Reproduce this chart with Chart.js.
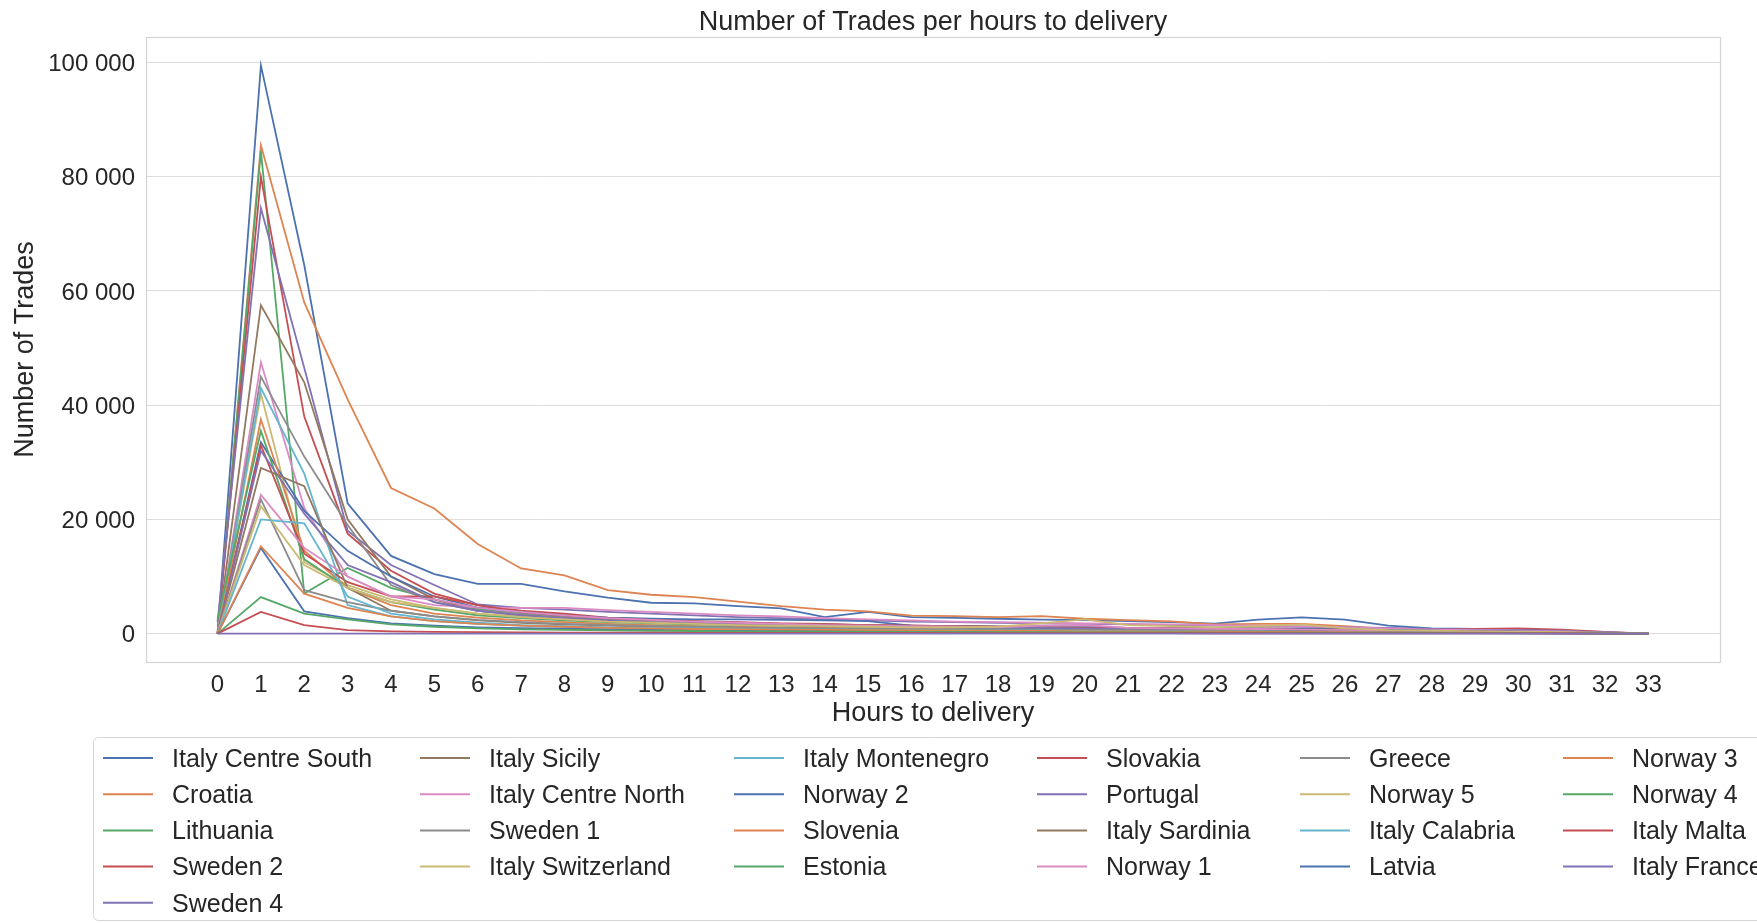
<!DOCTYPE html>
<html lang="en">
<head>
<meta charset="UTF-8">
<title>Number of Trades per hours to delivery</title>
<script src="https://cdn.jsdelivr.net/npm/chart.js"></script>
<style>
  html, body { margin: 0; padding: 0; background: #fff; }
  .graph { position: relative; width: 1757px; height: 923px; }
</style>
</head>
<body>
<div class="graph"><canvas id="myChart"></canvas></div>
<script>
// hours to delivery (x axis)
const hours = [0, 1, 2, 3, 4, 5, 6, 7, 8, 9, 10, 11, 12, 13, 14, 15, 16, 17, 18, 19, 20, 21, 22, 23, 24, 25, 26, 27, 28, 29, 30, 31, 32, 33];

const yTickValues = [0, 20000, 40000, 60000, 80000, 100000];
const yTickLabels = ['0', '20 000', '40 000', '60 000', '80 000', '100 000'];

// number of trades per market
const italyCentreSouth = [0, 99500, 64500, 22800, 13600, 10400, 8700, 8700, 7400, 6300, 5400, 5300, 4800, 4400, 2900, 3800, 2900, 2750, 2600, 2450, 2350, 2200, 2000, 1750, 2450, 2850, 2450, 1400, 900, 800, 700, 580, 250, 0];
const croatia = [0, 85500, 58000, 41000, 25500, 21900, 15700, 11400, 10200, 7600, 6800, 6400, 5600, 4800, 4200, 3900, 3150, 3050, 2900, 3050, 2600, 2350, 2150, 1600, 1700, 1700, 1300, 800, 600, 500, 400, 300, 150, 0];
const lithuania = [0, 84500, 7000, 11500, 8000, 6000, 4300, 3400, 2900, 2500, 2200, 2000, 1800, 1600, 1500, 1400, 1300, 1200, 1100, 1000, 950, 900, 850, 800, 750, 700, 600, 500, 400, 300, 250, 200, 100, 0];
const sweden2 = [0, 80000, 38000, 17500, 11000, 7000, 5000, 4000, 3500, 2800, 2500, 2200, 2000, 1800, 1700, 1500, 1400, 1300, 1200, 1200, 1100, 1000, 1000, 900, 900, 800, 800, 700, 800, 800, 900, 700, 300, 0];
const sweden4 = [2000, 74500, 46500, 18000, 12000, 8500, 5100, 4500, 4200, 3800, 3500, 3200, 2900, 2700, 2500, 2300, 2100, 2000, 1900, 1800, 1700, 1600, 1500, 1400, 1300, 1200, 1100, 1000, 800, 700, 600, 500, 200, 0];
const italySicily = [0, 57500, 44000, 20000, 10000, 6000, 4000, 3300, 2800, 2400, 2100, 1900, 1700, 1500, 1400, 1300, 1200, 1100, 1000, 950, 900, 850, 800, 750, 700, 650, 600, 500, 450, 400, 350, 300, 150, 0];
const italyCentreNorth = [0, 47500, 22000, 10000, 6500, 5000, 4600, 4500, 4500, 4100, 3800, 3500, 3200, 3000, 2700, 2500, 2300, 2100, 2000, 1900, 1800, 1700, 1600, 1500, 1400, 1300, 1100, 900, 700, 600, 500, 400, 200, 0];
const sweden1 = [0, 45000, 31000, 19000, 8500, 5500, 4000, 3500, 3000, 2600, 2300, 2100, 1900, 1700, 1600, 1500, 1400, 1300, 1200, 1200, 1100, 1000, 1000, 900, 900, 800, 700, 600, 500, 400, 350, 300, 150, 0];
const italySwitzerland = [0, 42000, 12500, 8500, 6000, 4500, 3500, 3000, 2600, 2200, 2000, 1800, 1600, 1500, 1400, 1300, 1200, 1100, 1100, 1200, 1100, 1000, 900, 800, 700, 600, 500, 400, 300, 300, 250, 200, 100, 0];
const italyMontenegro = [0, 43000, 28000, 5000, 3000, 2200, 1700, 1400, 1200, 1000, 900, 800, 750, 700, 650, 600, 550, 500, 450, 450, 400, 400, 350, 350, 300, 300, 250, 200, 150, 150, 100, 100, 50, 0];
const norway2 = [0, 33500, 21500, 14500, 10000, 6500, 4500, 3800, 3200, 2800, 2600, 2500, 2500, 2400, 2300, 2200, 1400, 1300, 1200, 1100, 1100, 1000, 900, 900, 800, 800, 700, 600, 500, 400, 350, 300, 150, 0];
const slovenia = [0, 37500, 14500, 8000, 5000, 3500, 2800, 2300, 2000, 1700, 1500, 1300, 1200, 1100, 1000, 900, 850, 800, 750, 700, 650, 600, 550, 500, 450, 400, 350, 300, 250, 200, 150, 100, 50, 0];
const estonia = [2500, 35500, 13000, 8000, 5500, 4200, 3200, 2700, 2300, 2000, 1800, 1600, 1500, 1400, 1300, 1200, 1100, 1000, 950, 900, 850, 800, 750, 700, 650, 600, 500, 400, 350, 300, 250, 200, 100, 0];
const slovakia = [0, 33000, 14000, 9000, 6500, 6500, 5000, 3800, 3200, 2700, 2400, 2100, 1900, 1700, 1600, 1500, 1400, 1300, 1200, 1100, 1000, 1000, 900, 800, 800, 700, 600, 500, 400, 350, 300, 250, 100, 0];
const portugal = [0, 32000, 21000, 12000, 9000, 5500, 4000, 3200, 2700, 2300, 2000, 1800, 1600, 1500, 1400, 1300, 1200, 1100, 1000, 1000, 900, 850, 800, 750, 700, 650, 550, 450, 350, 300, 250, 200, 100, 0];
const italySardinia = [0, 29000, 25800, 8000, 4000, 3000, 2300, 1900, 1600, 1400, 1200, 1100, 1000, 900, 850, 800, 750, 700, 650, 600, 550, 500, 500, 450, 400, 400, 350, 300, 250, 200, 150, 100, 50, 0];
const norway1 = [0, 24300, 15000, 10000, 6500, 6000, 4500, 3800, 3200, 2700, 2400, 2100, 1900, 1700, 1500, 1400, 1300, 1200, 1100, 1400, 1500, 1000, 900, 800, 800, 700, 600, 500, 400, 350, 300, 250, 100, 0];
const greece = [0, 23500, 7600, 5500, 4000, 3000, 2400, 2000, 1700, 1500, 1300, 1200, 1100, 1000, 900, 850, 800, 750, 700, 650, 600, 550, 500, 500, 450, 400, 350, 300, 250, 200, 150, 100, 50, 0];
const norway5 = [0, 22300, 12000, 8000, 5500, 4500, 3500, 2900, 2500, 2100, 1900, 1700, 1500, 1400, 1300, 1200, 1100, 1100, 1200, 1800, 2500, 1500, 1300, 1100, 1300, 1600, 900, 600, 500, 400, 300, 250, 100, 0];
const italyCalabria = [0, 20000, 19300, 6500, 3500, 2500, 1900, 1500, 1300, 1100, 1000, 900, 800, 750, 700, 650, 600, 550, 500, 500, 450, 400, 400, 350, 350, 300, 250, 200, 150, 150, 100, 100, 50, 0];
const latvia = [0, 15000, 3900, 2700, 1800, 1400, 1100, 950, 850, 750, 650, 600, 550, 500, 450, 420, 400, 380, 350, 330, 300, 280, 260, 240, 220, 200, 180, 150, 120, 100, 80, 60, 30, 0];
const norway3 = [0, 15300, 7000, 4500, 3000, 2200, 1700, 1400, 1200, 1000, 900, 800, 750, 700, 650, 600, 550, 500, 450, 450, 400, 400, 350, 350, 300, 300, 250, 200, 150, 150, 100, 100, 50, 0];
const norway4 = [0, 6400, 3500, 2500, 1600, 1200, 900, 750, 650, 550, 500, 450, 400, 380, 350, 330, 300, 280, 260, 240, 220, 200, 190, 180, 170, 160, 140, 120, 100, 80, 60, 50, 20, 0];
const italyMalta = [0, 3800, 1500, 600, 400, 300, 250, 200, 180, 160, 150, 140, 130, 120, 110, 100, 100, 90, 90, 80, 80, 70, 70, 60, 60, 50, 50, 40, 40, 30, 30, 20, 10, 0];
const italyFrance = [0, 0, 0, 0, 0, 0, 0, 0, 0, 0, 0, 0, 0, 0, 0, 0, 0, 0, 0, 0, 0, 0, 0, 0, 0, 0, 0, 0, 0, 0, 0, 0, 0, 0];

const seriesNames = ['Italy Centre South', 'Croatia', 'Lithuania', 'Sweden 2', 'Sweden 4', 'Italy Sicily',
    'Italy Centre North', 'Sweden 1', 'Italy Switzerland', 'Italy Montenegro', 'Norway 2', 'Slovenia',
    'Estonia', 'Slovakia', 'Portugal', 'Italy Sardinia', 'Norway 1', 'Greece', 'Norway 5',
    'Italy Calabria', 'Latvia', 'Norway 3', 'Norway 4', 'Italy Malta', 'Italy France'];
const seriesValues = [italyCentreSouth, croatia, lithuania, sweden2, sweden4, italySicily,
    italyCentreNorth, sweden1, italySwitzerland, italyMontenegro, norway2, slovenia,
    estonia, slovakia, portugal, italySardinia, norway1, greece, norway5,
    italyCalabria, latvia, norway3, norway4, italyMalta, italyFrance];

// seaborn "deep" palette, cycled
const palette = ['#4C72B0', '#DD8452', '#55A868', '#C44E52', '#8172B3', '#937860', '#DA8BC3', '#8C8C8C', '#CCB974', '#64B5CD'];

const FONTE = '"Liberation Sans", Arial, sans-serif';
const TEXTO = '#262626';

// title, plot frame and the 6-column legend under the plot
const extras = {
    id: 'extras',
    afterDatasetsDraw(chart) {
        const ctx = chart.ctx;
        const a = chart.chartArea;
        ctx.save();
        ctx.strokeStyle = '#d4d4d4';
        ctx.lineWidth = 1.2;
        ctx.strokeRect(a.left + 0.5, a.top + 0.5, a.right - a.left, a.bottom - a.top);
        ctx.restore();
    },
    afterDraw(chart) {
        const ctx = chart.ctx;
        const a = chart.chartArea;
        ctx.save();

        ctx.fillStyle = TEXTO;
        ctx.font = '27px ' + FONTE;
        ctx.textAlign = 'center';
        ctx.textBaseline = 'middle';
        ctx.fillText('Number of Trades per hours to delivery', (a.left + a.right) / 2, 23);

        // legend box
        ctx.beginPath();
        ctx.roundRect(93.5, 737.5, 1720, 183, 5);
        ctx.fillStyle = '#ffffff';
        ctx.fill();
        ctx.strokeStyle = '#d6d6d6';
        ctx.lineWidth = 1;
        ctx.stroke();

        // column-major filling, first column takes the extra entry
        const colX = [103, 420, 734, 1037, 1300, 1563];
        const ncol = colX.length;
        const n = chart.data.datasets.length;
        const base = Math.floor(n / ncol);
        const extra = n % ncol;
        let i = 0;
        ctx.font = '25px ' + FONTE;
        ctx.textAlign = 'left';
        for (let c = 0; c < ncol; c++) {
            const rows = base + (c < extra ? 1 : 0);
            for (let r = 0; r < rows && i < n; r++, i++) {
                const ds = chart.data.datasets[i];
                const y = 758 + r * 36.2;
                ctx.strokeStyle = ds.borderColor;
                ctx.lineWidth = 2;
                ctx.beginPath();
                ctx.moveTo(colX[c], y);
                ctx.lineTo(colX[c] + 50, y);
                ctx.stroke();
                ctx.fillStyle = TEXTO;
                ctx.fillText(ds.label, colX[c] + 69, y + 2);
            }
        }
        ctx.restore();
    }
};

function plotarGrafico() {
    const n = seriesNames.length;
    const datasets = seriesNames.map((nome, i) => ({
        label: nome,
        data: hours.map((h, j) => ({ x: h, y: seriesValues[i][j] })),
        borderColor: palette[i % palette.length],
        backgroundColor: palette[i % palette.length],
        borderWidth: 1.8,
        pointRadius: 0,
        tension: 0,
        fill: false,
        order: n - i // later series drawn on top, like matplotlib
    }));

    const ctx = document.getElementById('myChart').getContext('2d');
    new Chart(ctx, {
        type: 'line',
        data: { datasets: datasets },
        options: {
            responsive: true,
            maintainAspectRatio: false,
            animation: false,
            layout: { padding: { top: 37, right: 37, bottom: 193, left: 0 } },
            plugins: {
                legend: { display: false },
                title: { display: false },
                tooltip: { enabled: false }
            },
            scales: {
                x: {
                    type: 'linear',
                    min: -1.65,
                    max: 34.65,
                    afterBuildTicks: s => { s.ticks = hours.map(h => ({ value: h })); },
                    afterFit: s => { s.height = 68; },
                    grid: { display: false, drawTicks: false },
                    border: { display: false },
                    ticks: {
                        padding: 9,
                        autoSkip: false,
                        maxRotation: 0,
                        color: TEXTO,
                        font: { size: 24, family: FONTE },
                        callback: v => String(v)
                    },
                    title: {
                        display: true,
                        text: 'Hours to delivery',
                        color: TEXTO,
                        font: { size: 27, family: FONTE },
                        padding: { top: 0, bottom: 0 }
                    }
                },
                y: {
                    type: 'linear',
                    min: -4975,
                    max: 104475,
                    afterBuildTicks: s => { s.ticks = yTickValues.map(v => ({ value: v })); },
                    afterFit: s => { s.width = 146; },
                    grid: { color: '#dedede', lineWidth: 1, drawTicks: false },
                    border: { display: false },
                    ticks: {
                        padding: 11,
                        labelOffset: 2,
                        color: TEXTO,
                        font: { size: 24, family: FONTE },
                        callback: v => yTickLabels[yTickValues.indexOf(v)]
                    },
                    title: {
                        display: true,
                        text: 'Number of Trades',
                        color: TEXTO,
                        font: { size: 27, family: FONTE },
                        padding: { top: 9, bottom: 0 }
                    }
                }
            }
        },
        plugins: [extras]
    });
}

plotarGrafico();
</script>
</body>
</html>
